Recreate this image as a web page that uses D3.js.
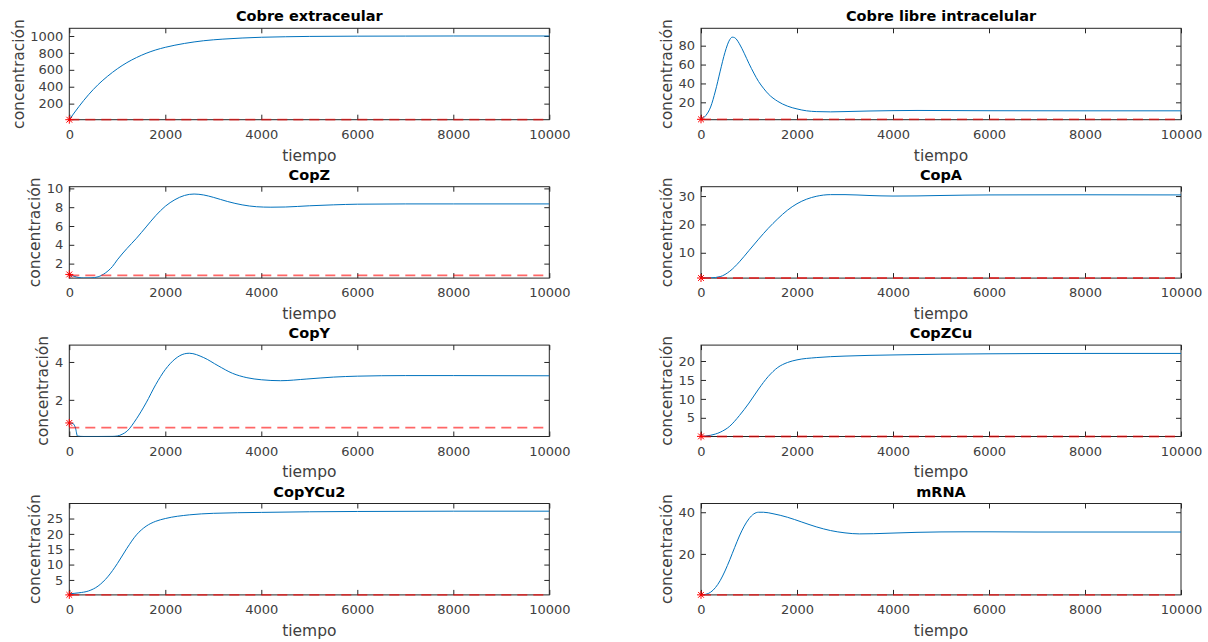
<!DOCTYPE html>
<html>
<head>
<meta charset="utf-8">
<script src="https://cdn.jsdelivr.net/npm/d3@7"></script>
<style>
    body { margin: 0; background: #fff; }
    text { font-family: "DejaVu Sans", sans-serif; }
</style>
</head>
<body>
<div id="chart"></div>
<script>
// eje x comun
const xTicks = [0, 2000, 4000, 6000, 8000, 10000];

const titles = ["Cobre extraceular", "Cobre libre intracelular", "CopZ", "CopA",
    "CopY", "CopZCu", "CopYCu2", "mRNA"];

// series [tiempo, concentracion]
const cobreExtra = [[0,10],[200,165],[400,305],[600,425],[800,525],[1000,612],[1200,685],[1400,745],
    [1600,795],[1800,835],[2000,866],[2400,912],[2800,944],[3200,963],[3600,976],[4000,985],
    [4500,991],[5000,995],[6000,998],[7000,999],[8000,1000],[10000,1000]];

const cobreLibre = [[0,2],[100,6],[200,15],[300,32],[400,53],[500,73],[600,86.5],[650,89],[700,88.5],
    [750,86],[800,82],[900,72],[1000,61],[1100,51],[1200,42],[1300,35],[1400,29],[1600,21],
    [1800,16],[2000,13],[2200,11],[2400,10.2],[2700,9.9],[3000,10.2],[3500,10.8],[4000,11.2],
    [4500,11.4],[5000,11.3],[6000,11.1],[8000,11],[10000,11]];

const copZ = [[0,0.85],[100,0.65],[200,0.52],[300,0.47],[450,0.48],[600,0.6],[750,1.0],[900,1.7],
    [1000,2.4],[1200,3.6],[1400,4.7],[1600,5.9],[1800,7.1],[2000,8.1],[2200,8.8],[2400,9.25],
    [2600,9.4],[2800,9.3],[3000,9.05],[3300,8.6],[3600,8.25],[3900,8.05],[4200,8.0],[4500,8.02],
    [5000,8.15],[5500,8.25],[6000,8.32],[7000,8.35],[8000,8.35],[10000,8.35]];

const copA = [[0,1.1],[200,1.15],[400,1.6],[600,3.5],[800,6.8],[1000,10.8],[1200,14.8],[1400,18.6],
    [1600,22],[1800,25],[2000,27.3],[2200,28.9],[2400,29.9],[2700,30.5],[3000,30.5],[3500,30.2],
    [4000,30.0],[4500,30.05],[5000,30.2],[6000,30.4],[8000,30.45],[10000,30.4]];

const copY = [[0,0.78],[80,0.74],[130,0.5],[170,0.09],[300,0.065],[600,0.065],[900,0.07],[1000,0.09],
    [1100,0.18],[1200,0.34],[1400,1.0],[1600,1.84],[1800,2.8],[2000,3.6],[2200,4.15],[2400,4.43],
    [2500,4.46],[2800,4.23],[3100,3.8],[3400,3.4],[3700,3.17],[4000,3.06],[4400,3.01],[4950,3.1],
    [5500,3.2],[6000,3.25],[7000,3.28],[8000,3.28],[10000,3.27]];

const copZCu = [[0,0.1],[200,0.4],[400,1.2],[600,2.8],[800,5.6],[1000,8.9],[1200,12.6],[1400,15.9],
    [1600,18.3],[1800,19.6],[2000,20.3],[2400,20.9],[3000,21.3],[4000,21.6],[5000,21.8],
    [6000,21.9],[8000,22],[10000,22]];

const copYCu2 = [[0,0.5],[200,0.8],[400,1.4],[600,3.0],[800,6.0],[1000,10.3],[1200,15.3],[1400,19.7],
    [1600,22.5],[1800,24.1],[2000,25.0],[2500,26.2],[3000,26.7],[4000,27.0],[5000,27.2],
    [6000,27.3],[8000,27.4],[10000,27.4]];

const mrna = [[0,0.35],[100,0.6],[200,1.6],[300,3.8],[400,7.2],[500,11.8],[600,17.2],[700,23],
    [800,28.6],[900,33.3],[1000,36.9],[1100,39.2],[1200,40],[1300,40],[1500,39.3],[1800,37.6],
    [2100,35.3],[2400,33],[2700,31.2],[3000,30.1],[3300,29.6],[3600,29.7],[4000,30],[4500,30.35],
    [5000,30.55],[5500,30.6],[6000,30.6],[7000,30.5],[8000,30.5],[10000,30.5]];

const series = [cobreExtra, cobreLibre, copZ, copA, copY, copZCu, copYCu2, mrna];

const yDomains = [[10,1091],[1.6,98.4],[0.46,10.18],[1.07,33.3],[0.064,4.89],[0.07,24.2],[0.12,29.9],[0.31,44.2]];

const yTicks = [[200,400,600,800,1000],[20,40,60,80],[2,4,6,8,10],[10,20,30],[2,4],
    [5,10,15,20],[5,10,15,20,25],[20,40]];

// valor inicial (asterisco) y referencia (linea discontinua)
const initVals = [10, 2, 0.85, 1.1, 0.78, 0.1, 0.12, 0.33];
const refVals = [10, 2, 0.75, 1.1, 0.53, 0.07, 0.12, 0.31];


class ConcPanel {
    constructor (svg, idx, left, top) {
        this.svg = svg;
        this.idx = idx;
        this.left = left;
        this.top = top;
    }

    initViz() {
        let vis = this;
        vis.width = 480;
        vis.height = 91.4;

        vis.g = vis.svg.append("g")
            .attr("transform", "translate(" + vis.left + "," + vis.top + ")");

        vis.g.append("defs").append("clipPath")
            .attr("id", "clip" + vis.idx)
            .append("rect")
            .attr("width", vis.width)
            .attr("height", vis.height);

        vis.x = d3.scaleLinear().domain([0, 10000]).range([0, vis.width]);
        vis.y = d3.scaleLinear().domain(yDomains[vis.idx]).range([vis.height, 0]);

        vis.drawAxes();
        vis.drawData();
    }

    drawAxes() {
        let vis = this;
        let axisColor = "#262626";
        let fmt = d => String(d);

        // ticks hacia dentro, como en matlab
        let xAxis = d3.axisBottom(vis.x).tickValues(xTicks).tickFormat(fmt).tickSizeInner(-5).tickSizeOuter(0).tickPadding(10);
        let yAxis = d3.axisLeft(vis.y).tickValues(yTicks[vis.idx]).tickFormat(fmt).tickSizeInner(-5).tickSizeOuter(0).tickPadding(6);
        let xTop = d3.axisTop(vis.x).tickValues(xTicks).tickSizeInner(-5).tickSizeOuter(0).tickFormat("");
        let yRight = d3.axisRight(vis.y).tickValues(yTicks[vis.idx]).tickSizeInner(-5).tickSizeOuter(0).tickFormat("");

        vis.g.append("g").attr("class", "x-axis axis").attr("transform", "translate(0," + vis.height + ")").call(xAxis);
        vis.g.append("g").attr("class", "y-axis axis").call(yAxis);
        vis.g.append("g").attr("class", "axis").call(xTop);
        vis.g.append("g").attr("class", "axis").attr("transform", "translate(" + vis.width + ",0)").call(yRight);

        vis.g.selectAll(".axis .domain").remove();
        vis.g.selectAll(".axis line").attr("stroke", axisColor);
        vis.g.selectAll(".axis text")
            .attr("fill", "#404040")
            .style("font-family", "DejaVu Sans")
            .style("font-size", "13px");

        vis.g.append("rect")
            .attr("width", vis.width)
            .attr("height", vis.height)
            .attr("fill", "none")
            .attr("stroke", axisColor)
            .attr("stroke-width", 1);

        // titulo y etiquetas
        vis.g.append("text")
            .attr("x", vis.width / 2)
            .attr("y", -7)
            .attr("text-anchor", "middle")
            .style("font-size", "14.5px")
            .style("font-weight", "bold")
            .attr("fill", "#000")
            .text(titles[vis.idx]);

        vis.g.append("text")
            .attr("x", vis.width / 2)
            .attr("y", vis.height + 41)
            .attr("text-anchor", "middle")
            .style("font-size", "15.5px")
            .attr("fill", "#404040")
            .text("tiempo");

        let tickW = d3.max(vis.g.selectAll(".y-axis text").nodes(), n => n.getBBox().width);
        let lx = -6 - tickW - 12;
        vis.g.append("text")
            .attr("transform", "translate(" + lx + "," + (vis.height / 2) + ") rotate(-90)")
            .attr("text-anchor", "middle")
            .attr("dy", "0.35em")
            .style("font-size", "15.5px")
            .attr("fill", "#404040")
            .text("concentración");
    }

    drawData() {
        let vis = this;
        let line = d3.line()
            .x(d => vis.x(d[0]))
            .y(d => vis.y(d[1]))
            .curve(d3.curveMonotoneX);

        vis.g.append("path")
            .attr("clip-path", "url(#clip" + vis.idx + ")")
            .attr("d", line(series[vis.idx]))
            .attr("fill", "none")
            .attr("stroke", "#0072bd")
            .attr("stroke-width", 1);

        let ref = refVals[vis.idx];
        vis.g.append("line")
            .attr("x1", vis.x(0))
            .attr("x2", vis.x(10000))
            .attr("y1", vis.y(ref))
            .attr("y2", vis.y(ref))
            .attr("stroke", "#ff0000")
            .attr("stroke-opacity", 0.6)
            .attr("stroke-width", 1.8)
            .attr("stroke-dasharray", "10,6");

        // asterisco rojo en t=0
        let cx = vis.x(0), cy = vis.y(initVals[vis.idx]), r = 4, k = r * 0.72;
        vis.g.append("path")
            .attr("d", "M" + (cx - r) + "," + cy + "H" + (cx + r) +
                "M" + cx + "," + (cy - r) + "V" + (cy + r) +
                "M" + (cx - k) + "," + (cy - k) + "L" + (cx + k) + "," + (cy + k) +
                "M" + (cx - k) + "," + (cy + k) + "L" + (cx + k) + "," + (cy - k))
            .attr("stroke", "#ff0000")
            .attr("stroke-width", 1)
            .attr("fill", "none");
    }
}

let svg = d3.select("#chart").append("svg")
    .attr("width", 1208)
    .attr("height", 642);

let colLeft = [69.3, 701];
let rowTop = [28.3, 186.7, 345.1, 503.5];

titles.forEach(function (t, i) {
    let panel = new ConcPanel(svg, i, colLeft[i % 2], rowTop[Math.floor(i / 2)]);
    panel.initViz();
});
</script>
</body>
</html>
